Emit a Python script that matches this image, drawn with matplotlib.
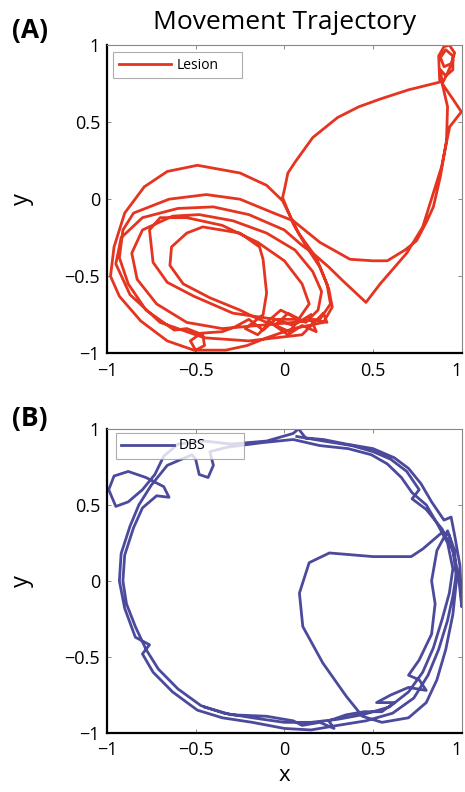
import numpy as np
import matplotlib
matplotlib.use("Agg")
import matplotlib.pyplot as plt

plt.rcParams['font.family'] = ['Open Sans', 'DejaVu Sans']

# traced points of the lesion trajectory (x, y)
lesion_xy = np.array([
    (0.15, -0.75), (0.05, -0.82), (-0.05, -0.78), (-0.12, -0.85), (-0.20, -0.78), (-0.28, -0.83), (-0.35, -0.86),
    (-0.47, -0.87), (-0.53, -0.92), (-0.50, -0.98), (-0.45, -0.95), (-0.46, -0.88), (-0.55, -0.84),
    (-0.62, -0.85), (-0.78, -0.72), (-0.88, -0.55), (-0.93, -0.38), (-0.91, -0.20), (-0.85, -0.09),
    (-0.65, 0.00), (-0.44, 0.03), (-0.25, 0.00), (-0.06, -0.09), (0.05, -0.14),
    (0.20, -0.28), (0.37, -0.39), (0.50, -0.40), (0.58, -0.40), (0.68, -0.33), (0.745, -0.27),
    (0.80, -0.15), (0.84, -0.05), (0.88, 0.15), (0.914, 0.38), (0.92, 0.60), (0.89, 0.75),
    (0.88, 0.84), (0.91, 0.80), (0.95, 0.84), (0.95, 0.93), (0.91, 0.97), (0.88, 0.92), (0.90, 0.86),
    (0.94, 0.88), (0.96, 0.95), (0.93, 1.00), (0.90, 0.99), (0.87, 0.93), (0.876, 0.76),
    (0.70, 0.71), (0.54, 0.65), (0.42, 0.60), (0.30, 0.53), (0.16, 0.40), (0.06, 0.24), (0.02, 0.17),
    (0.00, 0.06), (-0.01, 0.01),
    (0.05, -0.16), (0.12, -0.30), (0.20, -0.44), (0.25, -0.58), (0.27, -0.70), (0.22, -0.80),
    (0.05, -0.84), (-0.10, -0.90), (-0.21, -0.95), (-0.33, -0.98), (-0.51, -0.98), (-0.66, -0.92),
    (-0.81, -0.79), (-0.93, -0.63), (-0.98, -0.50), (-0.96, -0.31), (-0.90, -0.09), (-0.79, 0.08),
    (-0.66, 0.18), (-0.49, 0.22), (-0.25, 0.17), (-0.10, 0.09), (-0.01, -0.01), (0.08, -0.22),
    (0.18, -0.38), (0.24, -0.55), (0.26, -0.68), (0.20, -0.78),
    (0.05, -0.80), (-0.15, -0.82), (-0.35, -0.84), (-0.55, -0.80), (-0.72, -0.68), (-0.83, -0.52),
    (-0.86, -0.35), (-0.80, -0.20), (-0.63, -0.11), (-0.48, -0.10), (-0.29, -0.14), (-0.10, -0.22),
    (0.06, -0.33), (0.16, -0.47), (0.21, -0.60), (0.19, -0.72), (0.12, -0.80),
    (0.02, -0.74), (-0.05, -0.82), (0.03, -0.86), (0.08, -0.78),
    (-0.05, -0.78), (-0.29, -0.74), (-0.51, -0.63), (-0.66, -0.54), (-0.74, -0.41), (-0.76, -0.20),
    (-0.70, -0.12), (-0.55, -0.12), (-0.35, -0.17), (-0.15, -0.28), (0.00, -0.40), (0.10, -0.55),
    (0.14, -0.68), (0.08, -0.78),
    (-0.02, -0.72), (-0.10, -0.80), (-0.18, -0.76),
    (-0.25, -0.72), (-0.42, -0.64), (-0.57, -0.55), (-0.645, -0.43), (-0.636, -0.31), (-0.55, -0.22),
    (-0.46, -0.18), (-0.25, -0.22), (-0.14, -0.31), (-0.12, -0.39), (-0.10, -0.61), (-0.12, -0.75),
    (-0.22, -0.84), (-0.15, -0.88), (-0.08, -0.80), (0.02, -0.88), (0.10, -0.82), (0.18, -0.86),
    (0.15, -0.78), (0.24, -0.80), (0.22, -0.74),
    (0.10, -0.88), (-0.20, -0.92), (-0.45, -0.90), (-0.70, -0.80), (-0.87, -0.62), (-0.95, -0.42),
    (-0.92, -0.25), (-0.80, -0.12), (-0.60, -0.06), (-0.40, -0.05), (-0.20, -0.10), (0.00, -0.20),
    (0.10, -0.30),
    (0.16, -0.35), (0.25, -0.44), (0.33, -0.53), (0.46, -0.67), (0.54, -0.55), (0.69, -0.35),
    (0.78, -0.18), (0.886, 0.21), (0.932, 0.47), (0.998, 0.567), (0.95, 0.65), (0.89, 0.75),
    (0.92, 0.82), (0.95, 0.90),
])

# traced points of the DBS trajectory (x, y)
dbs_xy = np.array([
    (0.07, 0.95), (0.22, 0.92), (0.38, 0.89), (0.50, 0.85), (0.60, 0.80), (0.69, 0.72), (0.76, 0.60),
    (0.72, 0.54), (0.80, 0.47), (0.89, 0.34), (0.95, 0.20), (0.97, 0.05), (0.95, -0.10), (0.92, -0.26),
    (0.87, -0.45), (0.81, -0.62), (0.73, -0.77), (0.61, -0.87), (0.46, -0.92), (0.30, -0.95),
    (0.15, -0.98), (0.00, -0.97), (-0.18, -0.93), (-0.35, -0.90), (-0.49, -0.85), (-0.63, -0.73),
    (-0.74, -0.60), (-0.80, -0.48), (-0.76, -0.42), (-0.84, -0.37), (-0.90, -0.18), (-0.93, 0.00),
    (-0.92, 0.18), (-0.87, 0.36), (-0.82, 0.50), (-0.75, 0.63), (-0.66, 0.76), (-0.52, 0.83),
    (-0.50, 0.80), (-0.48, 0.70), (-0.43, 0.68), (-0.40, 0.76), (-0.42, 0.85),
    (-0.32, 0.88), (-0.12, 0.91), (0.05, 0.93),
    (0.20, 0.89), (0.36, 0.87), (0.49, 0.83), (0.58, 0.77), (0.66, 0.68), (0.72, 0.58), (0.80, 0.50),
    (0.86, 0.38), (0.92, 0.25), (0.95, 0.08), (0.93, -0.08), (0.89, -0.25), (0.84, -0.44),
    (0.78, -0.60), (0.70, -0.73), (0.59, -0.83), (0.44, -0.88), (0.30, -0.91), (0.15, -0.93),
    (0.00, -0.93), (-0.18, -0.90), (-0.34, -0.87), (-0.47, -0.82), (-0.60, -0.71), (-0.71, -0.58),
    (-0.78, -0.45), (-0.84, -0.30), (-0.89, -0.15), (-0.91, 0.00), (-0.90, 0.17), (-0.85, 0.35),
    (-0.80, 0.48), (-0.72, 0.56), (-0.65, 0.55), (-0.68, 0.62), (-0.78, 0.68), (-0.88, 0.72),
    (-0.96, 0.69), (-0.99, 0.60), (-0.95, 0.49), (-0.88, 0.52), (-0.80, 0.60), (-0.73, 0.70),
    (-0.68, 0.82), (-0.60, 0.90), (-0.45, 0.92), (-0.30, 0.90), (-0.10, 0.92), (0.05, 0.97),
    (0.08, 1.00), (0.12, 0.94), (0.22, 0.93),
    (0.35, 0.90), (0.50, 0.87), (0.62, 0.81), (0.70, 0.74), (0.77, 0.64), (0.83, 0.52), (0.90, 0.40),
    (0.94, 0.42), (0.96, 0.30), (0.99, 0.10), (1.00, -0.17), (0.98, 0.05), (0.93, 0.30), (0.89, 0.32),
    (0.78, 0.21), (0.715, 0.16), (0.50, 0.16), (0.254, 0.184), (0.14, 0.12), (0.085, -0.08),
    (0.104, -0.30), (0.217, -0.54), (0.35, -0.76), (0.44, -0.89), (0.55, -0.93), (0.70, -0.90),
    (0.80, -0.80), (0.86, -0.65), (0.91, -0.45), (0.95, -0.22), (0.97, 0.00), (0.96, 0.20),
    (0.92, 0.33),
    (0.86, 0.20), (0.83, 0.00), (0.85, -0.15), (0.83, -0.35), (0.76, -0.52), (0.70, -0.62),
    (0.76, -0.65), (0.80, -0.72), (0.70, -0.70), (0.60, -0.75), (0.52, -0.80), (0.62, -0.80),
    (0.55, -0.86), (0.45, -0.86), (0.35, -0.88), (0.25, -0.92), (0.28, -0.97), (0.20, -0.93),
    (0.10, -0.95), (0.05, -0.92), (-0.10, -0.89), (-0.30, -0.88), (-0.45, -0.83),
])

ticks = [-1, -0.5, 0, 0.5, 1]
tick_labels = ['\u22121', '\u22120.5', '0', '0.5', '1']

fig = plt.figure(figsize=(4.65, 7.92), dpi=100)
ax1 = fig.add_axes([0.230, 0.554, 0.763, 0.389])
ax2 = fig.add_axes([0.230, 0.0745, 0.763, 0.384])

# legend box placement (axes fraction): x0, top, width
panels = [(ax1, lesion_xy, '#e5341f', 'Lesion', (0.017, 0.977, 0.363)),
          (ax2, dbs_xy, '#4b4a9c', 'DBS', (0.025, 0.987, 0.360))]
for ax, xy, col, name, lb in panels:
    ax.plot(xy[:, 0], xy[:, 1], color=col, lw=2.0, label=name)
    ax.set_xlim(-1, 1)
    ax.set_ylim(-1, 1)
    ax.set_xticks(ticks)
    ax.set_yticks(ticks)
    ax.set_xticklabels(tick_labels)
    ax.set_yticklabels(tick_labels)
    ax.get_xticklabels()[-1].set_horizontalalignment('right')
    ax.tick_params(direction='in', length=3, width=0.6, color='#777777', labelsize=13,
                   top=True, right=True)
    ax.tick_params(axis='x', pad=6)
    ax.tick_params(axis='y', pad=5)
    for s in ['top', 'right']:
        ax.spines[s].set_color('#888888')
        ax.spines[s].set_linewidth(0.8)
    for s in ['left', 'bottom']:
        ax.spines[s].set_color('black')
        ax.spines[s].set_linewidth(1.6)
    ax.set_ylabel('y', fontsize=17, labelpad=22)
    leg = ax.legend(loc='upper left', bbox_to_anchor=(lb[0], lb[1], lb[2], 0), mode='expand',
                    fontsize=10, handlelength=3.8, handletextpad=0.35, frameon=True,
                    fancybox=False, borderaxespad=0, borderpad=0.4)
    leg.get_frame().set_edgecolor('#999999')
    leg.get_frame().set_linewidth(0.8)

fig.text(0.612, 0.971, 'Movement Trajectory', fontsize=19, ha='center', va='center')
ax2.set_xlabel('x', fontsize=16, labelpad=4)

fig.text(0.026, 0.961, '(A)', fontsize=19, fontweight='bold', ha='left', va='center')
fig.text(0.026, 0.471, '(B)', fontsize=19, fontweight='bold', ha='left', va='center')

fig.savefig('out.png', dpi=100)
